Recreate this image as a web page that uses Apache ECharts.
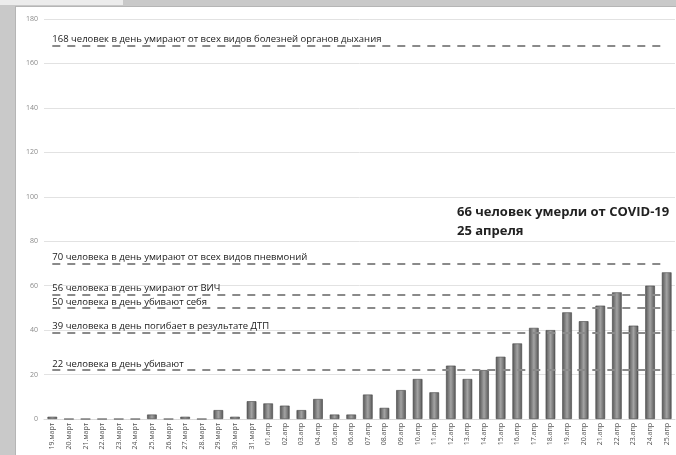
<!DOCTYPE html>
<html>
<head>
<meta charset="utf-8">
<script src="https://cdn.jsdelivr.net/npm/echarts@6/dist/echarts.min.js"></script>
<style>
html,body{margin:0;padding:0;background:#c9c9c9;width:676px;height:455px;overflow:hidden;}
#top{position:absolute;left:0;top:0;width:123px;height:5px;background:#ececec;}
#panel{position:absolute;left:15px;top:6px;width:661px;height:449px;background:#fff;border-left:1px solid #b5b5b5;border-top:1px solid #b5b5b5;box-sizing:border-box;}
#chart{position:absolute;left:0;top:0;width:676px;height:455px;}
</style>
</head>
<body>
<div id="top"></div>
<div id="panel"></div>
<div id="chart"></div>
<script>
const categories = ["19.март","20.март","21.март","22.март","23.март","24.март","25.март","26.март","27.март","28.март","29.март","30.март","31.март","01.апр","02.апр","03.апр","04.апр","05.апр","06.апр","07.апр","08.апр","09.апр","10.апр","11.апр","12.апр","13.апр","14.апр","15.апр","16.апр","17.апр","18.апр","19.апр","20.апр","21.апр","22.апр","23.апр","24.апр","25.апр"];
const deaths = [1,0,0,0,0,0,2,0,1,0,4,1,8,7,6,4,9,2,2,11,5,13,18,12,24,18,22,28,34,41,40,48,44,51,57,42,60,66];
const refValues = [168,70,56,50,39,22];
const refLabels = [
  "168 человек в день умирают от всех видов болезней органов дыхания",
  "70 человека в день умирают от всех видов пневмоний",
  "56 человека в день умирают от ВИЧ",
  "50 человека в день убивают себя",
  "39 человека в день погибает в результате ДТП",
  "22 человека в день убивают"
];
const yTicks = [0,20,40,60,80,100,120,140,160,180];
const noteLines = ["66 человек умерли от COVID-19","25 апреля"];

const chart = echarts.init(document.getElementById('chart'), null, {renderer:'canvas'});
const barColor = new echarts.graphic.LinearGradient(0,0,1,0,[
  {offset:0,color:'#555'},{offset:0.5,color:'#a3a3a3'},{offset:1,color:'#555'}
]);
const first = categories[0], last = categories[categories.length-1];
chart.setOption({
  backgroundColor:'transparent',
  animation:false,
  grid:{left:44,right:1,top:19,bottom:36,containLabel:false},
  xAxis:{
    type:'category',data:categories,
    axisLine:{show:true,lineStyle:{color:'#d8d8d8',type:'dotted'}},
    axisTick:{show:false},
    axisLabel:{rotate:90,fontSize:7,color:'#555',fontFamily:'Open Sans',margin:4,interval:0}
  },
  yAxis:{
    type:'value',min:0,max:180,interval:20,
    axisLine:{show:false},axisTick:{show:false},
    splitLine:{lineStyle:{color:'#e2e2e2',width:1}},
    axisLabel:{fontSize:7,color:'#8a8a8a',fontFamily:'Open Sans',margin:6}
  },
  series:[{
    type:'bar',data:deaths,barWidth:'58%',
    itemStyle:{color:barColor,borderColor:'#444',borderWidth:0.6},
    markLine:{
      symbol:['none','none'],silent:true,
      lineStyle:{color:'#8a8a8a',type:[8,7],width:2},
      label:{position:'insideStartTop',fontSize:9.5,color:'#1a1a1a',fontFamily:'Open Sans',distance:[0,1]},
      data: refValues.map((v,i)=>[
        {xAxis:first,yAxis:v,label:{formatter:refLabels[i]}},
        {xAxis:last,yAxis:v}
      ])
    }
  }],
  graphic:[
    {type:'text',left:457,top:206,style:{text:noteLines[0],fontSize:13,fontWeight:'bold',fill:'#222',fontFamily:'Open Sans'}},
    {type:'text',left:457,top:225,style:{text:noteLines[1],fontSize:13,fontWeight:'bold',fill:'#222',fontFamily:'Open Sans'}}
  ]
});
</script>
</body>
</html>
